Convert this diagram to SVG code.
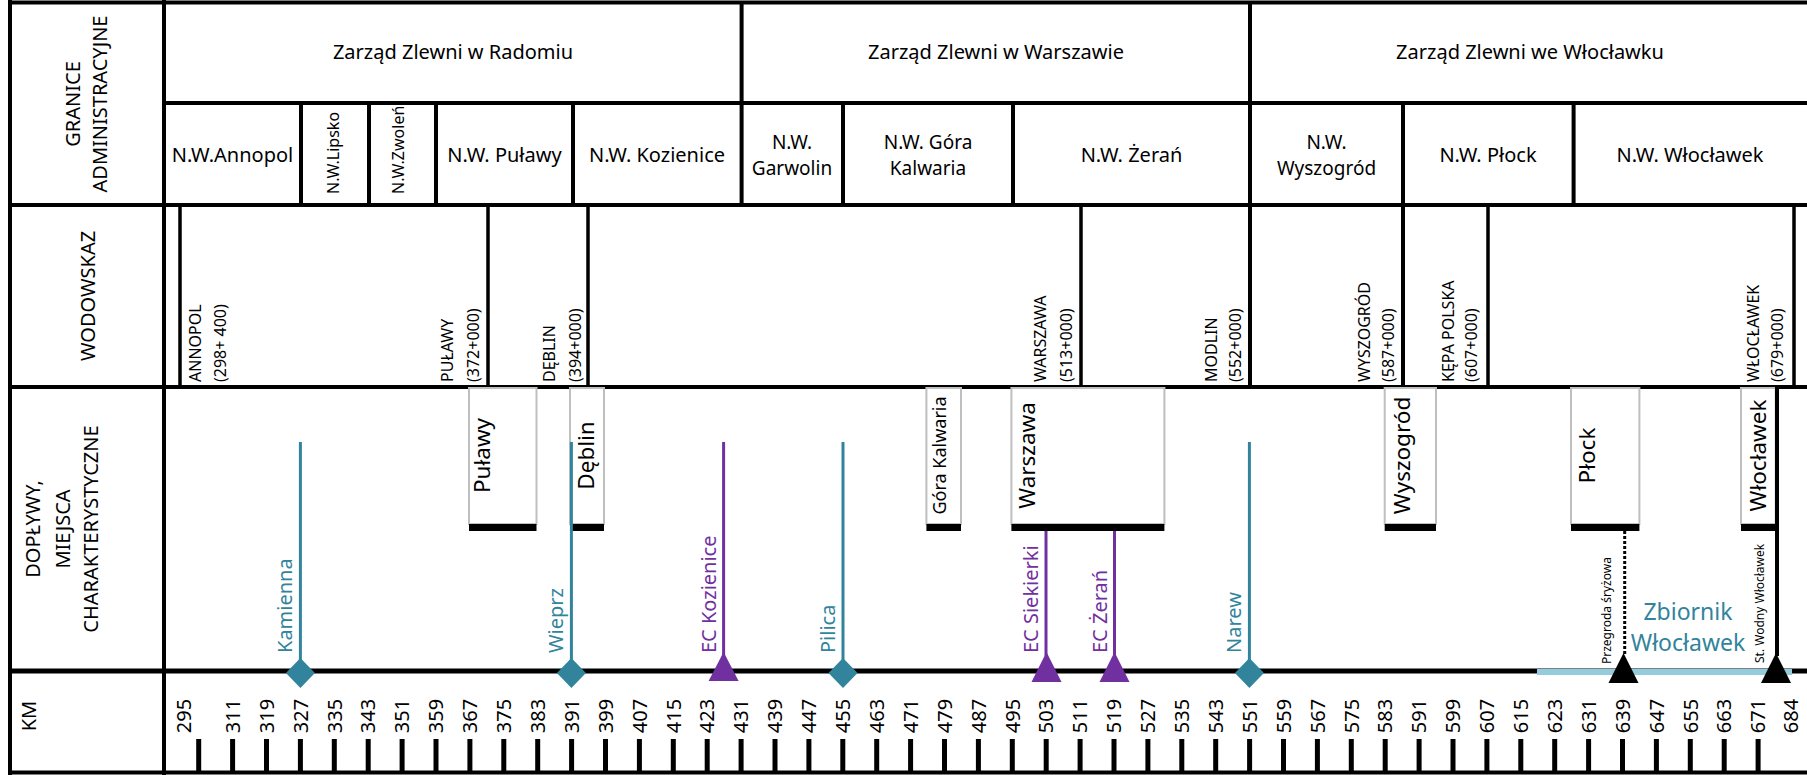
<svg xmlns="http://www.w3.org/2000/svg" width="1807" height="775" viewBox="0 0 1807 775">
<defs>
<style>
text{font-family:"Noto Sans","Open Sans","DejaVu Sans",sans-serif;fill:#000}
.grid{stroke:#000;stroke-width:4;fill:none}
.gl{stroke:#000;stroke-width:3.5;fill:none}
.h{font-size:20px;text-anchor:middle}
.h2{font-size:19px;text-anchor:middle}
.r15{font-size:16px}
.lab{font-size:20px;text-anchor:middle}
.g16{font-size:16px}
.box{fill:#fff;stroke:#BFBFBF;stroke-width:2}
.bar{fill:#000}
.bx{font-size:22.5px;text-anchor:middle}
.trib{stroke:#31849B;stroke-width:3}
.ec{stroke:#7030A0;stroke-width:3}
.teal{fill:#31849B;font-size:20px}
.purple{fill:#7030A0;font-size:20px}
.dia{fill:#31849B}
.tri{fill:#7030A0}
.btri{fill:#000}
.km{font-size:20px;text-anchor:middle}
.tick{stroke:#000;stroke-width:5;fill:none}
.small{font-size:12px}
</style>
<clipPath id="zw"><rect x="369" y="105" width="67" height="100"/></clipPath>
</defs>
<rect x="0" y="0" width="1807" height="775" fill="#fff"/>

<g id="grid">
<path class="grid" d="M8 2.5H1807M8 772.5H1807M10 0V775M164 0V775M164 103H1807M10 205H1807M10 387H1807"/>
<path class="grid" d="M741.6 3V205M1250 3V387M301 103V205M369 103V205M436 103V205M573 103V205M843 103V205M1013 103V205M1403 103V387M1573.6 103V205"/>
<path class="gl" d="M180 205V387M488 205V387M588 205V387M1081 205V387M1488 205V387M1794 205V387"/>
</g>

<g id="labels">
<g id="lab-granice">
<text class="lab" transform="translate(80,104) rotate(-90)">GRANICE</text>
<text class="lab" transform="translate(107,104) rotate(-90)">ADMINISTRACYJNE</text>
</g>
<text id="lab-wodowskaz" class="lab" transform="translate(95,296) rotate(-90)">WODOWSKAZ</text>
<g id="lab-doplywy">
<text class="lab" transform="translate(40,529) rotate(-90)">DOPŁYWY,</text>
<text class="lab" transform="translate(69.5,529) rotate(-90)">MIEJSCA</text>
<text class="lab" transform="translate(98,529) rotate(-90)">CHARAKTERYSTYCZNE</text>
</g>
<text id="lab-km" class="lab" transform="translate(36,716) rotate(-90)">KM</text>
</g>

<g id="zarzady">
<text id="zz-radom" class="h" x="453" y="59">Zarząd Zlewni w Radomiu</text>
<text id="zz-warszawa" class="h" x="996" y="59">Zarząd Zlewni w Warszawie</text>
<text id="zz-wloclawek" class="h" x="1530" y="59">Zarząd Zlewni we Włocławku</text>
</g>

<g id="nadzory">
<text id="nw-annopol" class="h" x="232.5" y="162">N.W.Annopol</text>
<text id="nw-lipsko" class="r15" transform="translate(339,194) rotate(-90)">N.W.Lipsko</text>
<g id="nw-zwolen" clip-path="url(#zw)"><text class="r15" transform="translate(404,194) rotate(-90)">N.W.Zwoleń</text></g>
<text id="nw-pulawy" class="h" x="504.5" y="162">N.W. Puławy</text>
<text id="nw-kozienice" class="h" x="657" y="162">N.W. Kozienice</text>
<text id="nw-garwolin" class="h2" x="792" y="148.5">N.W.<tspan x="792" y="175">Garwolin</tspan></text>
<text id="nw-gora" class="h2" x="928" y="148.5">N.W. Góra<tspan x="928" y="175">Kalwaria</tspan></text>
<text id="nw-zeran" class="h" x="1131.5" y="162">N.W. Żerań</text>
<text id="nw-wyszogrod" class="h2" x="1326.5" y="148.5">N.W.<tspan x="1326.5" y="175">Wyszogród</tspan></text>
<text id="nw-plock" class="h" x="1488" y="162">N.W. Płock</text>
<text id="nw-wloclawek" class="h" x="1690" y="162">N.W. Włocławek</text>
</g>

<g id="wodowskazy">
<g id="ww-annopol"><text class="g16" transform="translate(201,382) rotate(-90)">ANNOPOL</text><text class="g16" transform="translate(226,382) rotate(-90)">(298+ 400)</text></g>
<g id="ww-pulawy"><text class="g16" transform="translate(453,382) rotate(-90)">PUŁAWY</text><text class="g16" transform="translate(479,382) rotate(-90)">(372+000)</text></g>
<g id="ww-deblin"><text class="g16" transform="translate(555,382) rotate(-90)">DĘBLIN</text><text class="g16" transform="translate(581,382) rotate(-90)">(394+000)</text></g>
<g id="ww-warszawa"><text class="g16" transform="translate(1046,382) rotate(-90)">WARSZAWA</text><text class="g16" transform="translate(1072,382) rotate(-90)">(513+000)</text></g>
<g id="ww-modlin"><text class="g16" transform="translate(1217,382) rotate(-90)">MODLIN</text><text class="g16" transform="translate(1241,382) rotate(-90)">(552+000)</text></g>
<g id="ww-wyszogrod"><text class="g16" transform="translate(1370,382) rotate(-90)">WYSZOGRÓD</text><text class="g16" transform="translate(1394,382) rotate(-90)">(587+000)</text></g>
<g id="ww-kepa"><text class="g16" transform="translate(1453.5,382) rotate(-90)">KĘPA POLSKA</text><text class="g16" transform="translate(1477,382) rotate(-90)">(607+000)</text></g>
<g id="ww-wloclawek"><text class="g16" transform="translate(1759,382) rotate(-90)">WŁOCŁAWEK</text><text class="g16" transform="translate(1783,382) rotate(-90)">(679+000)</text></g>
</g>

<g id="miejscowosci">
<g id="m-pulawy"><rect class="box" x="469" y="388" width="67.5" height="136"/><rect class="bar" x="469" y="524" width="67.5" height="7"/><text class="bx" transform="translate(490,455.5) rotate(-90)">Puławy</text></g>
<g id="m-deblin"><rect class="box" x="570" y="388" width="34" height="136"/><rect class="bar" x="570" y="524" width="34" height="7"/><text class="bx" transform="translate(594,455.5) rotate(-90)">Dęblin</text></g>
<g id="m-gora"><rect class="box" x="926.4" y="388" width="34.6" height="136"/><rect class="bar" x="926.4" y="524" width="34.6" height="7"/><text class="bx" style="font-size:18px" transform="translate(946,455.5) rotate(-90)">Góra Kalwaria</text></g>
<g id="m-warszawa"><rect class="box" x="1011.4" y="388" width="153" height="136"/><rect class="bar" x="1011.4" y="524" width="153" height="7"/><text class="bx" transform="translate(1035,455.5) rotate(-90)">Warszawa</text></g>
<g id="m-wyszogrod"><rect class="box" x="1384.7" y="388" width="51.3" height="136"/><rect class="bar" x="1384.7" y="524" width="51.3" height="7"/><text class="bx" transform="translate(1409.5,455.5) rotate(-90)">Wyszogród</text></g>
<g id="m-plock"><rect class="box" x="1571" y="388" width="68.4" height="136"/><rect class="bar" x="1571" y="524" width="68.4" height="7"/><text class="bx" transform="translate(1595,455.5) rotate(-90)">Płock</text></g>
<g id="m-wloclawek"><rect class="box" x="1741" y="388" width="34.7" height="136"/><rect class="bar" x="1741" y="524" width="34.7" height="7"/><text class="bx" transform="translate(1766,455.5) rotate(-90)">Włocławek</text></g>
</g>

<g id="connectors">
<line class="trib" x1="300.4" y1="442" x2="300.4" y2="662"/>
<line class="trib" x1="571.4" y1="442" x2="571.4" y2="662"/>
<line class="trib" x1="843" y1="442" x2="843" y2="662"/>
<line class="trib" x1="1249.4" y1="442" x2="1249.4" y2="662"/>
<line class="ec" x1="723.6" y1="442" x2="723.6" y2="656"/>
<line class="ec" x1="1046" y1="531" x2="1046" y2="656"/>
<line class="ec" x1="1114.5" y1="531" x2="1114.5" y2="656"/>
<line x1="1624.7" y1="531" x2="1624.7" y2="656" stroke="#000" stroke-width="3" stroke-dasharray="3 2"/>
<line x1="1777" y1="387" x2="1777" y2="656" stroke="#000" stroke-width="4"/>
<line id="rzeka" x1="10" y1="671" x2="1807" y2="671" stroke="#000" stroke-width="5"/>
<line id="zbiornik-line" x1="1537" y1="672" x2="1792" y2="672" stroke="#93CDDD" stroke-width="6"/>
</g>

<g id="doplywy">
<g id="d-kamienna"><polygon class="dia" points="300.4,658 314.9,673 300.4,688 285.9,673"/><text class="teal" transform="translate(292.4,653) rotate(-90)">Kamienna</text></g>
<g id="d-wieprz"><polygon class="dia" points="571.4,658 585.9,673 571.4,688 556.9,673"/><text class="teal" transform="translate(563.4,653) rotate(-90)">Wieprz</text></g>
<g id="d-pilica"><polygon class="dia" points="843,658 857.5,673 843,688 828.5,673"/><text class="teal" transform="translate(835,653) rotate(-90)">Pilica</text></g>
<g id="d-narew"><polygon class="dia" points="1249.4,658 1263.9,673 1249.4,688 1234.9,673"/><text class="teal" transform="translate(1241.4,653) rotate(-90)">Narew</text></g>
<g id="ec-kozienice"><polygon class="tri" points="723.6,652 738.6,681 708.6,681"/><text class="purple" transform="translate(715.6,653) rotate(-90)">EC Kozienice</text></g>
<g id="ec-siekierki"><polygon class="tri" points="1046.5,652 1061.5,682 1031.5,682"/><text class="purple" transform="translate(1038,653) rotate(-90)">EC Siekierki</text></g>
<g id="ec-zeran"><polygon class="tri" points="1114.5,652 1129.5,682 1099.5,682"/><text class="purple" transform="translate(1106.5,653) rotate(-90)">EC Żerań</text></g>
<g id="przegroda"><polygon class="btri" points="1623.5,653 1638.5,683 1608.5,683"/><text class="small" transform="translate(1611,664) rotate(-90)">Przegroda śryżowa</text></g>
<g id="st-wodny"><polygon class="btri" points="1776,653 1791,683 1761,683"/><text class="small" transform="translate(1764,663) rotate(-90)">St. Wodny Włocławek</text></g>
<text id="zbiornik" style="fill:#31849B;font-size:23px;text-anchor:middle" x="1688" y="620">Zbiornik<tspan x="1688" y="651">Włocławek</tspan></text>
</g>

<g id="kilometraz">
<path class="tick" d="M198.7 739V773M232.6 739V773M266.5 739V773M300.4 739V773M334.3 739V773M368.2 739V773M402.1 739V773M436 739V773M469.9 739V773M503.8 739V773M537.7 739V773M571.6 739V773M605.5 739V773M639.4 739V773M673.3 739V773M707.2 739V773M741.1 739V773M775 739V773M808.9 739V773M842.8 739V773M876.7 739V773M910.6 739V773M944.5 739V773M978.4 739V773M1012.3 739V773M1046.2 739V773M1080.1 739V773M1114 739V773M1147.9 739V773M1181.8 739V773M1215.7 739V773M1249.6 739V773M1283.5 739V773M1317.4 739V773M1351.3 739V773M1385.2 739V773M1419.1 739V773M1453 739V773M1486.9 739V773M1520.8 739V773M1554.7 739V773M1588.6 739V773M1622.5 739V773M1656.4 739V773M1690.3 739V773M1724.2 739V773M1758.1 739V773"/>
<text class="km" transform="translate(190.9,716) rotate(-90)">295</text>
<text class="km" transform="translate(239.8,716) rotate(-90)">311</text>
<text class="km" transform="translate(273.7,716) rotate(-90)">319</text>
<text class="km" transform="translate(307.6,716) rotate(-90)">327</text>
<text class="km" transform="translate(341.5,716) rotate(-90)">335</text>
<text class="km" transform="translate(375.4,716) rotate(-90)">343</text>
<text class="km" transform="translate(409.3,716) rotate(-90)">351</text>
<text class="km" transform="translate(443.2,716) rotate(-90)">359</text>
<text class="km" transform="translate(477.1,716) rotate(-90)">367</text>
<text class="km" transform="translate(511,716) rotate(-90)">375</text>
<text class="km" transform="translate(544.9,716) rotate(-90)">383</text>
<text class="km" transform="translate(578.8,716) rotate(-90)">391</text>
<text class="km" transform="translate(612.7,716) rotate(-90)">399</text>
<text class="km" transform="translate(646.6,716) rotate(-90)">407</text>
<text class="km" transform="translate(680.5,716) rotate(-90)">415</text>
<text class="km" transform="translate(714.4,716) rotate(-90)">423</text>
<text class="km" transform="translate(748.3,716) rotate(-90)">431</text>
<text class="km" transform="translate(782.2,716) rotate(-90)">439</text>
<text class="km" transform="translate(816.1,716) rotate(-90)">447</text>
<text class="km" transform="translate(850,716) rotate(-90)">455</text>
<text class="km" transform="translate(883.9,716) rotate(-90)">463</text>
<text class="km" transform="translate(917.8,716) rotate(-90)">471</text>
<text class="km" transform="translate(951.7,716) rotate(-90)">479</text>
<text class="km" transform="translate(985.6,716) rotate(-90)">487</text>
<text class="km" transform="translate(1019.5,716) rotate(-90)">495</text>
<text class="km" transform="translate(1053.4,716) rotate(-90)">503</text>
<text class="km" transform="translate(1087.3,716) rotate(-90)">511</text>
<text class="km" transform="translate(1121.2,716) rotate(-90)">519</text>
<text class="km" transform="translate(1155.1,716) rotate(-90)">527</text>
<text class="km" transform="translate(1189,716) rotate(-90)">535</text>
<text class="km" transform="translate(1222.9,716) rotate(-90)">543</text>
<text class="km" transform="translate(1256.8,716) rotate(-90)">551</text>
<text class="km" transform="translate(1290.7,716) rotate(-90)">559</text>
<text class="km" transform="translate(1324.6,716) rotate(-90)">567</text>
<text class="km" transform="translate(1358.5,716) rotate(-90)">575</text>
<text class="km" transform="translate(1392.4,716) rotate(-90)">583</text>
<text class="km" transform="translate(1426.3,716) rotate(-90)">591</text>
<text class="km" transform="translate(1460.2,716) rotate(-90)">599</text>
<text class="km" transform="translate(1494.1,716) rotate(-90)">607</text>
<text class="km" transform="translate(1528,716) rotate(-90)">615</text>
<text class="km" transform="translate(1561.9,716) rotate(-90)">623</text>
<text class="km" transform="translate(1595.8,716) rotate(-90)">631</text>
<text class="km" transform="translate(1629.7,716) rotate(-90)">639</text>
<text class="km" transform="translate(1663.6,716) rotate(-90)">647</text>
<text class="km" transform="translate(1697.5,716) rotate(-90)">655</text>
<text class="km" transform="translate(1731.4,716) rotate(-90)">663</text>
<text class="km" transform="translate(1765.3,716) rotate(-90)">671</text>
<text class="km" transform="translate(1797.6,716) rotate(-90)">684</text>
</g>
</svg>
